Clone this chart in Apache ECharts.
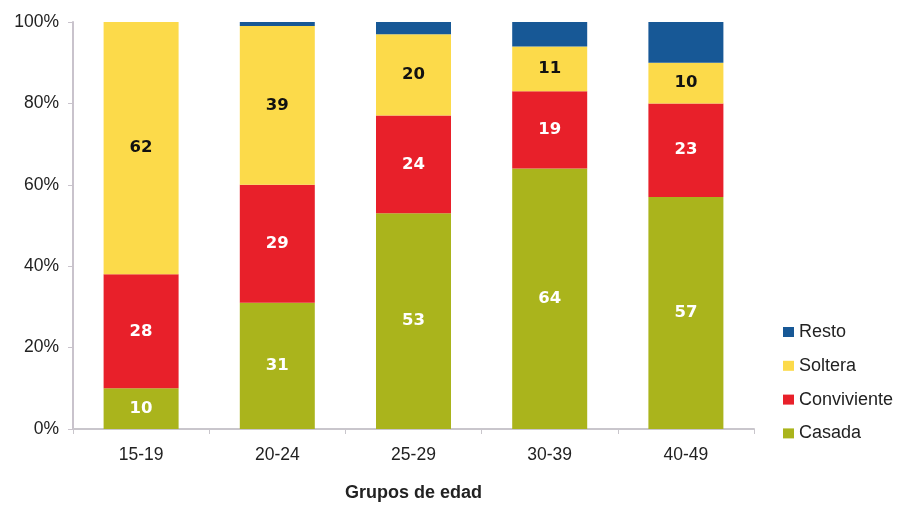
<!DOCTYPE html>
<html>
<head>
<meta charset="utf-8">
<script src="https://cdn.jsdelivr.net/npm/echarts@6/dist/echarts.min.js"></script>
<style>html,body{margin:0;padding:0;background:#fff;}#c{width:897px;height:507px;}</style>
</head>
<body>
<div id="c"></div>
<script>
const categories = ['15-19', '20-24', '25-29', '30-39', '40-49'];
const casada = [10, 31, 53, 64, 57];
const conviviente = [28, 29, 24, 19, 23];
const soltera = [62, 39, 20, 11, 10];
const resto = [0, 1, 3, 6, 10];
const yTicks = [0, 20, 40, 60, 80, 100];

const chart = echarts.init(document.getElementById('c'), null, {renderer: 'canvas'});
const font = 'Liberation Sans, Arial, sans-serif';
function mk(name, data, color, labelColor, showLabel) {
  return {
    name: name, type: 'bar', stack: 'total', data: data, barWidth: 75,
    itemStyle: {color: color},
    label: {show: showLabel, position: 'inside', color: labelColor,
      fontFamily: 'DejaVu Sans, sans-serif', fontWeight: 'bold', fontSize: 16.5},
    emphasis: {disabled: true}
  };
}
chart.setOption({
  animation: false,
  backgroundColor: '#fff',
  grid: {left: 73, right: 143, top: 22, bottom: 72},
  legend: {
    orient: 'vertical', left: 778, top: 317,
    data: ['Resto', 'Soltera', 'Conviviente', 'Casada'],
    icon: 'rect', itemWidth: 11, itemHeight: 10, itemGap: 13.8,
    textStyle: {fontFamily: font, fontSize: 18, color: '#222', lineHeight: 20}
  },
  xAxis: {
    type: 'category', data: categories,
    name: 'Grupos de edad', nameLocation: 'middle', nameGap: 55,
    nameTextStyle: {fontFamily: font, fontSize: 18, fontWeight: 'bold', color: '#222'},
    axisLine: {lineStyle: {color: '#c9c6cc', width: 2}},
    axisTick: {show: true, length: 5, lineStyle: {color: '#c9c6cc'}},
    axisLabel: {fontFamily: font, fontSize: 17.5, color: '#222', margin: 17}
  },
  yAxis: {
    type: 'value', min: yTicks[0], max: yTicks[yTicks.length - 1], interval: 20,
    axisLine: {show: true, lineStyle: {color: '#c9c3cc', width: 2}},
    axisTick: {show: true, length: 5, lineStyle: {color: '#c9c3cc'}},
    splitLine: {show: false},
    axisLabel: {fontFamily: font, fontSize: 17.5, color: '#222', margin: 14,
      formatter: v => v + '%'}
  },
  series: [
    mk('Casada', casada, '#aab41c', '#fff', true),
    mk('Conviviente', conviviente, '#e8202a', '#fff', true),
    mk('Soltera', soltera, '#fcda4a', '#111', true),
    mk('Resto', resto, '#175896', '#fff', false)
  ]
});
</script>
</body>
</html>
